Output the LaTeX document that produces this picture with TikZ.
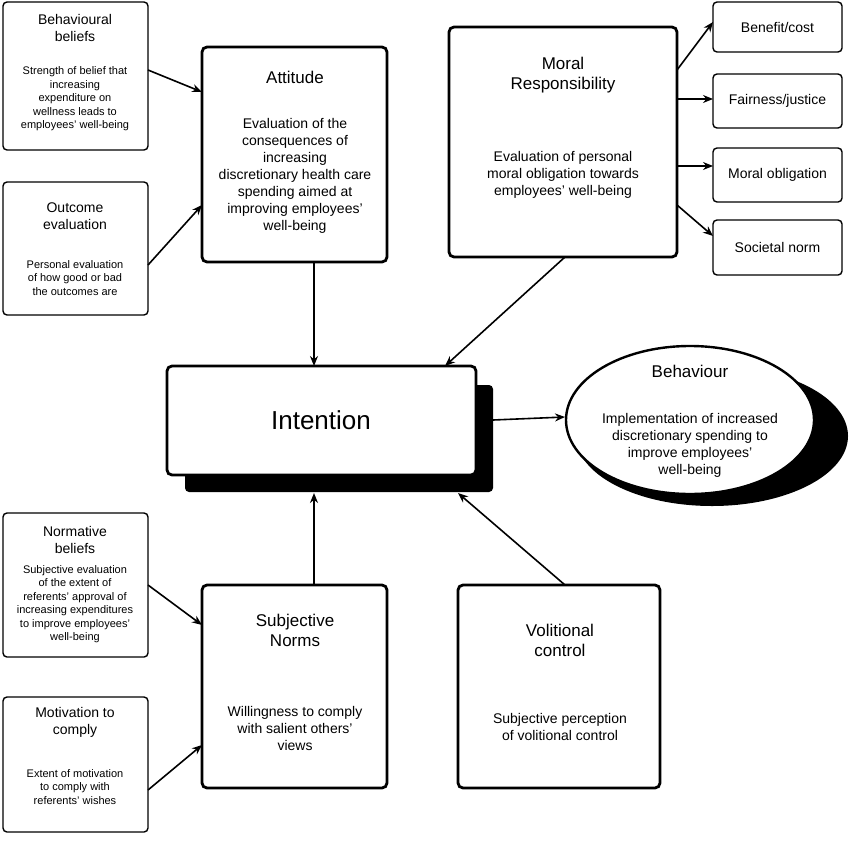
\documentclass[tikz,border=0pt]{standalone}
\usepackage{fontspec}
\setmainfont{Liberation Sans}
\usetikzlibrary{arrows.meta}
\begin{document}
\begin{tikzpicture}[x=1pt,y=-1pt,
 sbox/.style={draw,line width=1.4pt,rounded corners=4pt,fill=white},
 bbox/.style={draw,line width=2.8pt,rounded corners=5pt,fill=white},
 arr/.style={-{Stealth[length=10pt,width=8pt]},line width=1.6pt},
 tt/.style={font=\fontsize{17}{20}\selectfont,align=center},
 bt/.style={font=\fontsize{14}{17}\selectfont,align=center},
 st/.style={font=\fontsize{11}{13.5}\selectfont,align=center}]
\useasboundingbox (0,0) rectangle (850,843);
% small left boxes
\draw[sbox] (3,2) rectangle (148,150);
\node[bt] at (75,28) {Behavioural\\beliefs};
\node[st] at (75,99) {Strength of belief that\\increasing\\expenditure on\\wellness leads to\\employees' well-being};
\draw[sbox] (3,182) rectangle (148,315);
\node[bt] at (75,216) {Outcome\\evaluation};
\node[st] at (75,278) {Personal evaluation\\of how good or bad\\the outcomes are};
\draw[sbox] (3,513) rectangle (148,657);
\node[bt] at (75,540) {Normative\\beliefs};
\node[st] at (75,604) {Subjective evaluation\\of the extent of\\referents' approval of\\increasing expenditures\\to improve employees'\\well-being};
\draw[sbox] (3,697) rectangle (148,832);
\node[bt] at (75,722) {Motivation to\\comply};
\node[st] at (75,787) {Extent of motivation\\to comply with\\referents' wishes};
% Attitude
\draw[bbox] (202,47) rectangle (387,262);
\node[tt] at (295,77) {Attitude};
\node[bt] at (295,176) {Evaluation of the\\consequences of\\increasing\\discretionary health care\\spending aimed at\\improving employees'\\well-being};
% Moral
\draw[bbox] (449,27) rectangle (677,257);
\node[tt] at (563,75) {Moral\\Responsibility};
\node[bt] at (563,175) {Evaluation of personal\\moral obligation towards\\employees' well-being};
% right boxes
\foreach \a/\b/\t in {2/52/{Benefit/cost},74/128/{Fairness/justice},148/202/{Moral obligation},220/275/{Societal norm}}{
 \draw[sbox] (713,\a) rectangle (842,\b);
 \node[bt] at (777.5,{(\a+\b)/2}) {\t};}
% Intention
\fill[rounded corners=4pt] (185,385) rectangle (493,492);
\draw[bbox] (167,366) rectangle (476,475);
\node[font=\fontsize{26}{30}\selectfont] at (321,420) {Intention};
% Behaviour
\fill (712,436) ellipse (136 and 70);
\draw[line width=2.4pt,fill=white] (690,420) ellipse (124 and 74);
\node[tt] at (690,371) {Behaviour};
\node[bt] at (690,445) {Implementation of increased\\discretionary spending to\\improve employees'\\well-being};
% Subjective / Volitional
\draw[bbox] (202,585) rectangle (387,788);
\node[tt] at (295,630) {Subjective\\Norms};
\node[bt] at (295,728) {Willingness to comply\\with salient others'\\views};
\draw[bbox] (458,585) rectangle (660,788);
\node[tt] at (560,640) {Volitional\\control};
\node[bt] at (560,727) {Subjective perception\\of volitional control};
% arrows
\draw[arr] (148,70) -- (202,92);
\draw[arr] (148,265) -- (202,205);
\draw[arr] (148,585) -- (202,625);
\draw[arr] (148,790) -- (202,745);
\draw[arr] (314,262) -- (314,366);
\draw[arr] (565,257) -- (445,366);
\draw[arr] (314,585) -- (314,493);
\draw[arr] (565,585) -- (458,493);
\draw[arr] (493,420) -- (565,417);
\draw[arr] (677,70) -- (713,22);
\draw[arr] (677,99) -- (713,99);
\draw[arr] (677,166) -- (713,166);
\draw[arr] (677,205) -- (713,236);
\end{tikzpicture}
\end{document}
